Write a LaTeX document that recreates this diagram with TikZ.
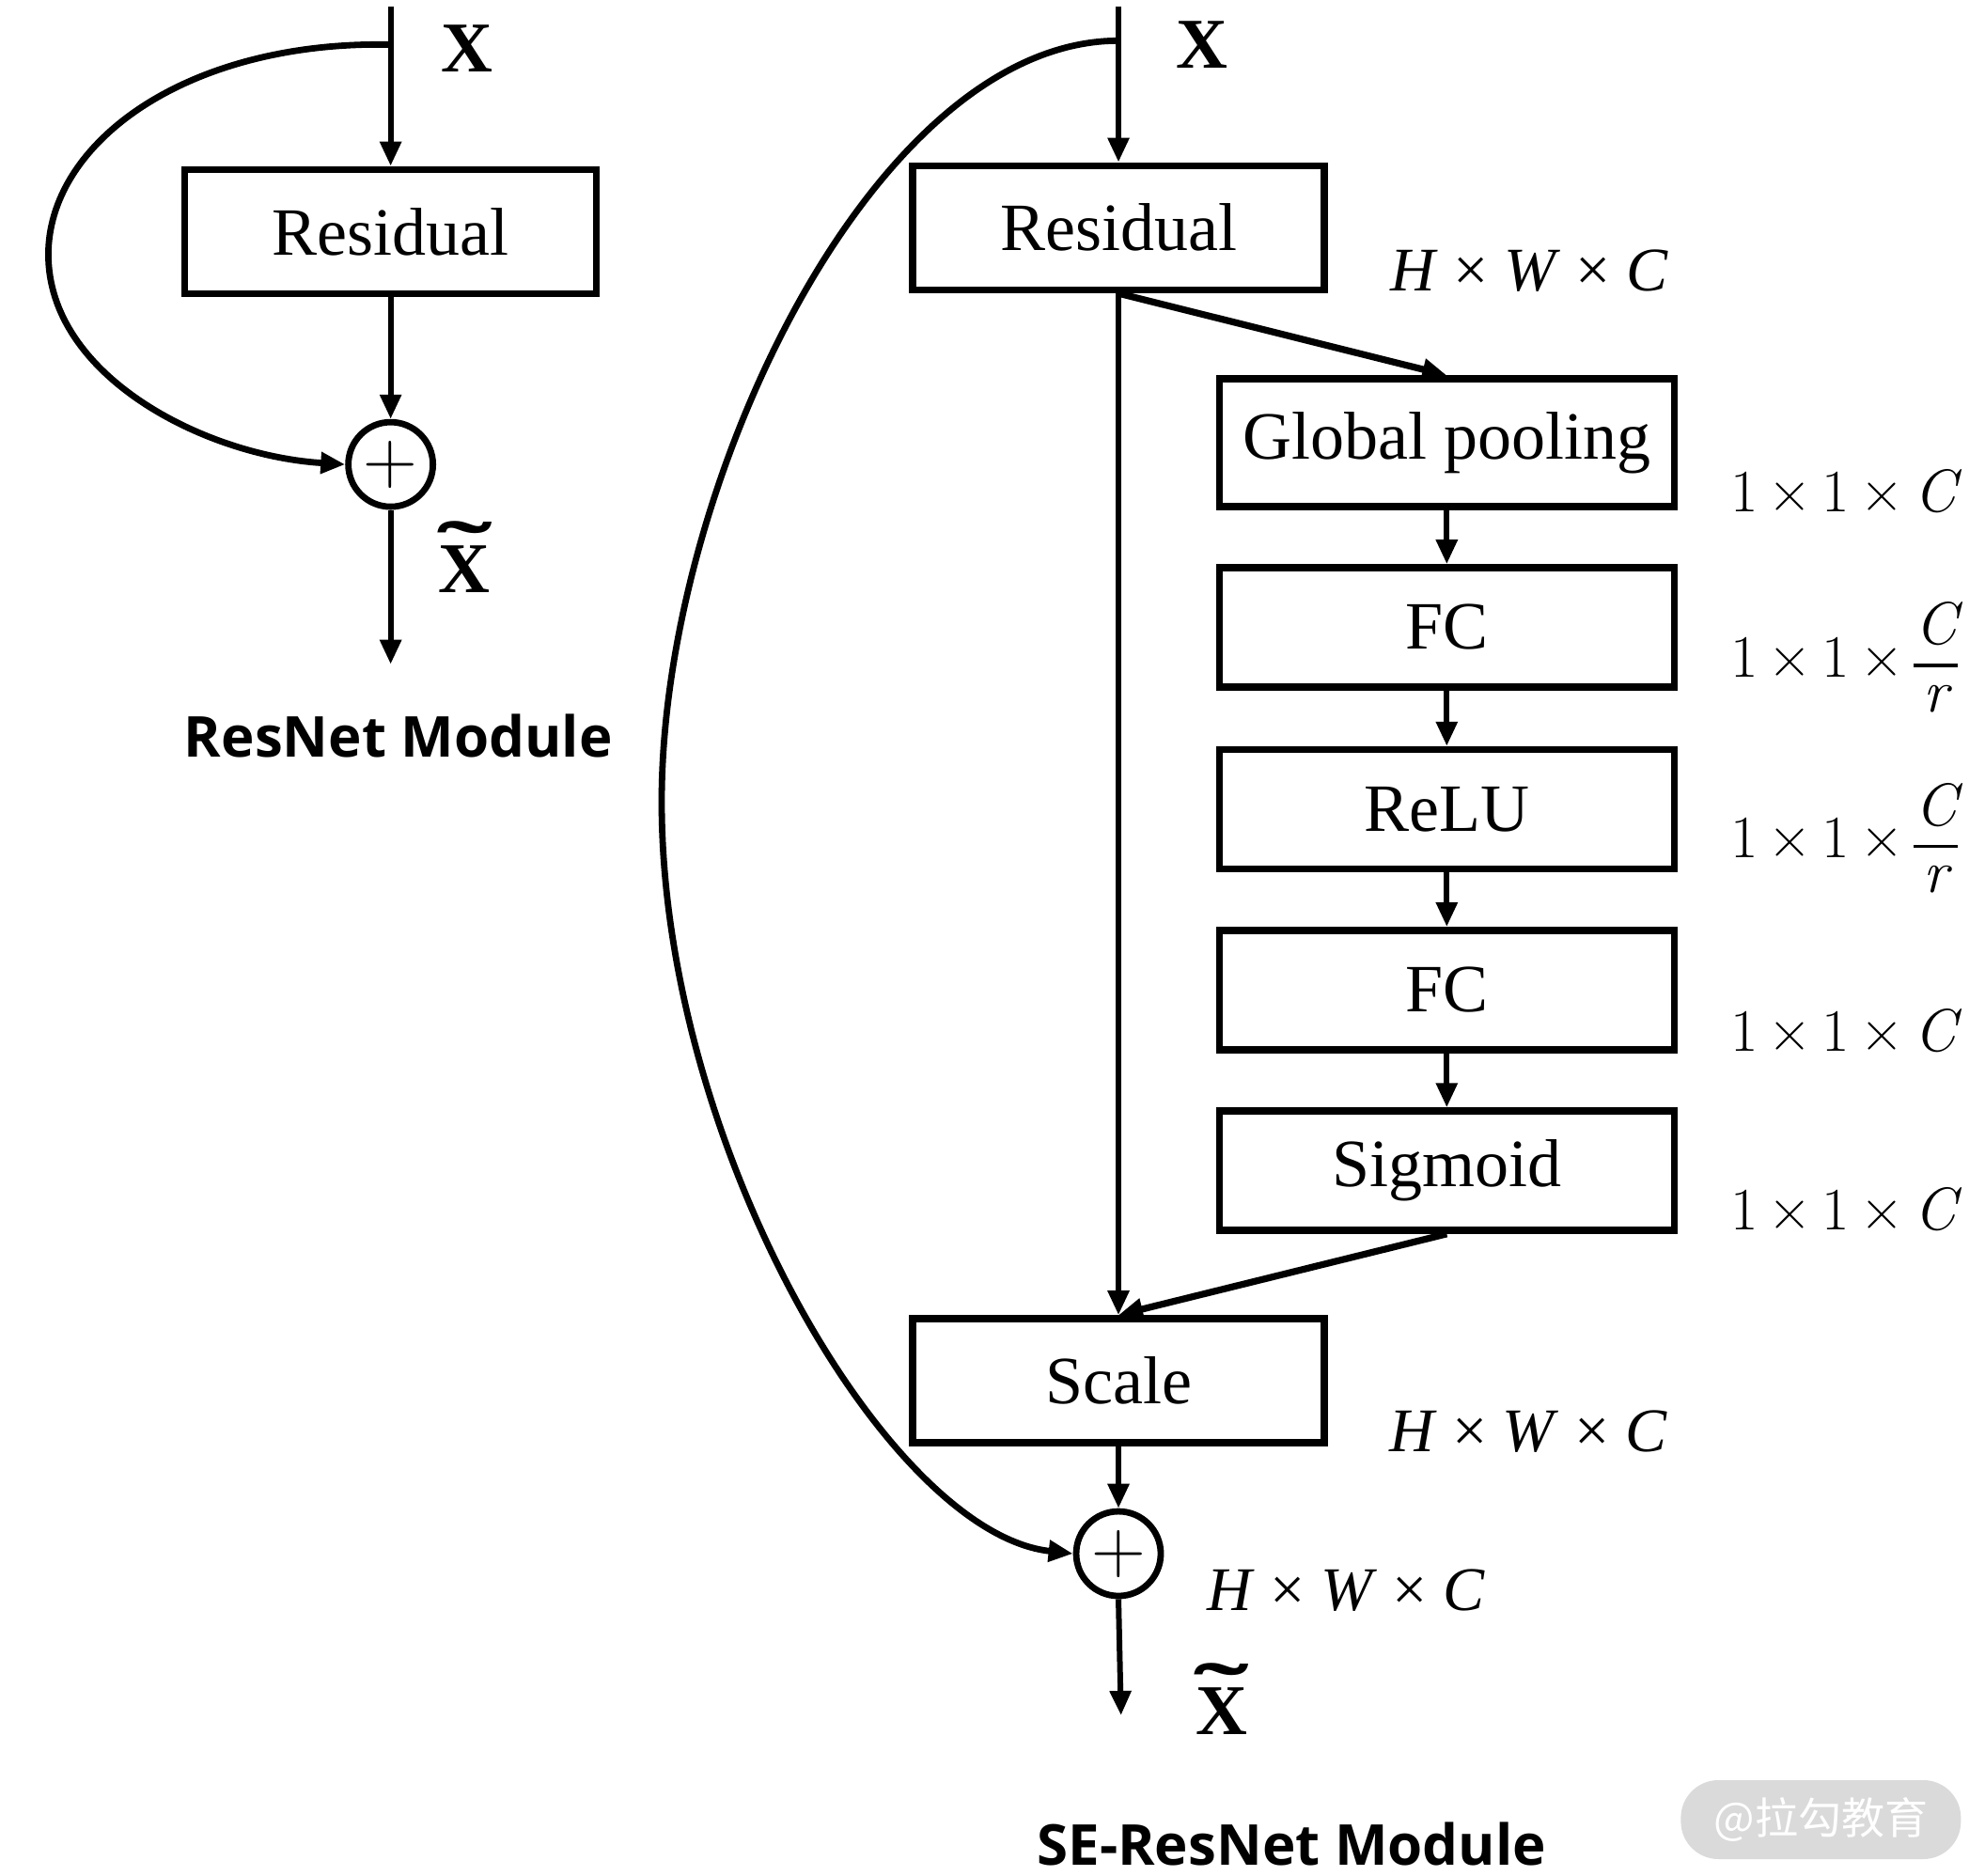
\documentclass[tikz,border=0pt]{standalone}
\usepackage{fontspec}
\setmainfont{Liberation Serif}
\newfontfamily\titlesans{Open Sans}
\newfontfamily\lmfont{Latin Modern Roman}
\newfontfamily\cjkfont{Noto Sans CJK SC}
\usetikzlibrary{arrows.meta}
\definecolor{wmgray}{RGB}{218,218,218}
\newcommand\tildeX{\setbox0\hbox{\bfseries X}\hbox to \wd0{\hss\raisebox{0.2em}{\scalebox{2.3}[1.15]{\char"02DC}}\hss}\kern-\wd0\box0}
\newcommand\fracCr{{\renewcommand\arraystretch{0.9}\setlength\arrayrulewidth{1.6pt}\setlength\tabcolsep{0.5pt}\begin{tabular}[c]{c}\itshape C\\\hline\itshape r\end{tabular}}}
\newcommand\gap{\hspace{0.17em}}
\newcommand\oneone{1\gap×\gap1\gap×\gap}
\begin{document}
\begin{tikzpicture}[x=0.677pt,y=-0.677pt,
  blk/.style={draw, line width=3.8pt, minimum width=219pt, minimum height=66pt, inner sep=0pt, font=\fontsize{36}{40}\selectfont},
  seblk/.style={blk, minimum width=242pt, minimum height=63.5pt},
  sumnode/.style={draw, circle, line width=3.4pt, minimum size=45pt, inner sep=0pt, font=\fontsize{40}{42}\selectfont\lmfont},
  arr/.style={line width=3pt, -{Triangle[length=13pt,width=11pt]}},
  thick arr/.style={arr, line width=3.6pt},
  loop arr/.style={line width=3.4pt, -{Triangle[length=13pt,width=11pt]}},
  xlab/.style={font=\fontsize{38}{40}\selectfont\bfseries},
  dimlab/.style={font=\fontsize{33}{38}\selectfont},
  onelab/.style={anchor=west, inner sep=0pt, font=\fontsize{32}{38}\selectfont\lmfont},
  title/.style={font=\fontsize{30}{34}\selectfont\titlesans\bfseries}
]
\useasboundingbox (0,0) rectangle (1560,1474);

% ---------------- ResNet module ----------------
\node[blk] (resL) at (307,182) {Residual};
\node[sumnode] (plusL) at (307,365) {+};
\coordinate (inL) at (307,5);
\coordinate (loopL) at (307,35);
\coordinate (outL) at (307,522);
\draw[arr] (inL) -- (resL.north);
\draw[arr] (resL.south) -- (plusL.north);
\draw[arr] (plusL.south) -- (outL);
\draw[loop arr] (loopL) -- (292,35) .. controls (140,37) and (38,115) .. (38,200)
   .. controls (38,295) and (160,358) .. (plusL.west);
\node[xlab] (xL) at (367,38) {X};
\node[xlab] (xtL) at (365,438) {\tildeX};
\node[title] (tL) at (313,578) {ResNet Module};

% ---------------- SE-ResNet module ----------------
\node[blk] (resR) at (879,179) {Residual};
\node[blk, minimum width=242pt, minimum height=68pt] (gp) at (1137,348) {Global pooling};
\node[seblk] (fc1) at (1137,493) {FC};
\node[seblk] (relu) at (1137,636) {ReLU};
\node[seblk] (fc2) at (1137,778) {FC};
\node[seblk] (sig) at (1137,920) {Sigmoid};
\node[blk] (scale) at (879,1085) {Scale};
\node[sumnode] (plusR) at (879,1221) {+};
\coordinate (inR) at (879,5);
\coordinate (loopR) at (879,32);
\coordinate (outR) at (881,1348);

\draw[arr] (inR) -- (resR.north);
\draw[arr] (resR.south) -- (scale.north);
\draw[thick arr] (resR.south) -- (gp.north);
\draw[arr] (gp.south) -- (fc1.north);
\draw[arr] (fc1.south) -- (relu.north);
\draw[arr] (relu.south) -- (fc2.north);
\draw[arr] (fc2.south) -- (sig.north);
\draw[thick arr] (sig.south) -- (scale.north);
\draw[arr] (scale.south) -- (plusR.north);
\draw[arr] (plusR.south) -- (outR);
\draw[loop arr] (loopR) .. controls (688,32) and (520,380) .. (520,630)
   .. controls (520,900) and (698,1205) .. (plusR.west);

\node[xlab] (xR) at (945,35) {X};
\node[xlab] (xtR) at (960,1335) {\tildeX};

\node[dimlab] (d1) at (1202,213) {\textit{H} × \textit{W} × \textit{C}};
\node[dimlab] (d2) at (1201,1125) {\textit{H} × \textit{W} × \textit{C}};
\node[dimlab] (d3) at (1058,1250) {\textit{H} × \textit{W} × \textit{C}};

\node[onelab] (o1) at (1360,386) {\oneone\textit{C}};
\node[onelab] (o2) at (1360,523) {\oneone\fracCr};
\node[onelab] (o3) at (1360,665) {\oneone\fracCr};
\node[onelab] (o4) at (1360,810) {\oneone\textit{C}};
\node[onelab] (o5) at (1360,950) {\oneone\textit{C}};

\node[title] (tR) at (1015,1449) {SE-ResNet Module};

% watermark
\node[fill=wmgray, rounded corners=20pt, minimum width=149pt, minimum height=42pt, inner sep=0pt,
      text=white, font=\fontsize{23}{26}\selectfont\cjkfont] (wm) at (1431,1430) {@拉勾教育};
\end{tikzpicture}
\end{document}
